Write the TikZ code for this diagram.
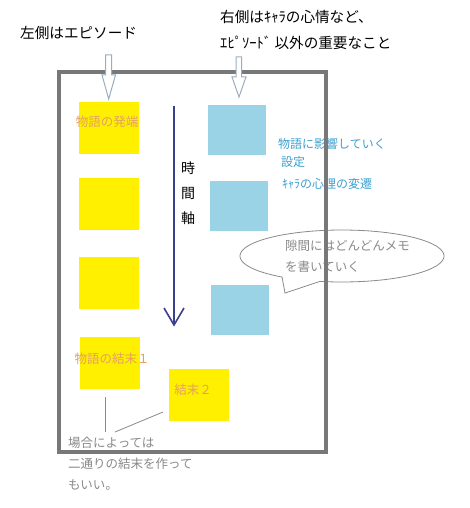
\documentclass[tikz,border=0pt]{standalone}
\usepackage{fontspec}
\setmainfont{Noto Sans CJK JP}
\definecolor{boxyellow}{HTML}{FFF000}
\definecolor{boxblue}{HTML}{9AD3E6}
\definecolor{bluetext}{HTML}{3CA0D0}
\definecolor{orangetext}{HTML}{E4A060}
\definecolor{framegray}{HTML}{787878}
\definecolor{notegray}{HTML}{8A8A8A}
\definecolor{arrowoutline}{HTML}{9CAEBE}
\definecolor{timeblue}{HTML}{3A3F8E}
\begin{document}
\begin{tikzpicture}[x=1pt,y=-1pt,
  ybox/.style={fill=boxyellow, draw=none, minimum width=60pt, minimum height=52pt, inner sep=0pt},
  bbox/.style={fill=boxblue, draw=none, minimum width=58pt, minimum height=50pt, inner sep=0pt},
  toplabel/.style={anchor=west, inner sep=0pt, font=\fontsize{14.6}{17}\selectfont, text=black},
  bluelabel/.style={anchor=west, inner sep=0pt, font=\fontsize{12}{14}\selectfont, text=bluetext},
  boxlabel/.style={inner sep=0pt, font=\fontsize{12.5}{15}\selectfont, text=orangetext},
  notelabel/.style={inner sep=0pt, align=left, font=\fontsize{12.5}{21}\selectfont, text=notegray},
  hollowarrow/.style={draw=arrowoutline, fill=white, line width=1pt, line join=miter},
  pointer/.style={draw=notegray, line width=0.8pt}
]
\useasboundingbox (0,0) rectangle (469,508);
\fill[white] (0,0) rectangle (469,508);

% top labels
\node[toplabel] (leftlab) at (20,33) {左側はエピソード};
\node[toplabel] (rightlab1) at (220,17) {右側はｷｬﾗの心情など、};
\node[toplabel] (rightlab2) at (220,43) {ｴﾋﾟｿｰﾄﾞ 以外の重要なこと};

% callout ellipse (drawn before frame so the frame lies on top)
\draw[draw=notegray, line width=0.8pt] (285,293) -- plot[domain=-234:102.5, samples=90] ({342+102*cos(\x)},{256+26*sin(\x)}) -- cycle;
\node[notelabel, anchor=north west] (memo) at (285,240) {隙間にはどんどんメモ\\を書いていく};

% yellow episode boxes
\node[ybox] (y1) at (109,128) {};
\node[ybox] (y2) at (109,204) {};
\node[ybox] (y3) at (109,282.5) {};
\node[ybox] (y4) at (110,363) {};
\node[ybox] (y5) at (199,395) {};
\node[boxlabel] (y1lab) at (107,122) {物語の発端};
\node[boxlabel] (y4lab) at (112,359) {物語の結末１};
\node[boxlabel] (y5lab) at (193,390) {結末２};

% blue boxes
\node[bbox] (b1) at (237,130) {};
\node[bbox] (b2) at (238.5,206) {};
\node[bbox] (b3) at (239.5,310) {};
\node[bluelabel] (b1lab) at (278,144) {物語に影響していく};
\node[bluelabel] (b1lab2) at (281,162) {設定};
\node[bluelabel] (b2lab) at (282,184) {ｷｬﾗの心理の変遷};

% time axis
\coordinate (tstart) at (174,106);
\coordinate (tend) at (174,325);
\coordinate (theadl) at (164,308);
\coordinate (theadr) at (184,308);
\draw[timeblue, line width=1.6pt] (tstart) -- (tend);
\draw[timeblue, line width=1.6pt, line join=miter] (theadl) -- (tend) -- (theadr);
\node[inner sep=0pt, align=center, font=\fontsize{14}{25}\selectfont] (timelab) at (188,193) {時\\間\\軸};

% frame
\draw[framegray, line width=4pt] (59,72) rectangle (326,452);

% hollow arrows
\draw[hollowarrow] (105.7,55) -- (111.7,55) -- (111.7,75) -- (115.5,75) -- (108.7,99) -- (102,75) -- (105.7,75) -- cycle;
\draw[hollowarrow] (236,57) -- (241.7,57) -- (241.7,77) -- (246,77) -- (239,97) -- (232,77) -- (236,77) -- cycle;

% bottom note and pointers
\node[notelabel, anchor=north west] (endnote) at (68,437) {場合によっては\\二通りの結末を作って\\もいい。};
\coordinate (p1a) at (105,397);
\coordinate (p1b) at (105,432);
\coordinate (p2a) at (163,412);
\coordinate (p2b) at (115,432);
\draw[pointer] (p1a) -- (p1b);
\draw[pointer] (p2a) -- (p2b);
\end{tikzpicture}
\end{document}
